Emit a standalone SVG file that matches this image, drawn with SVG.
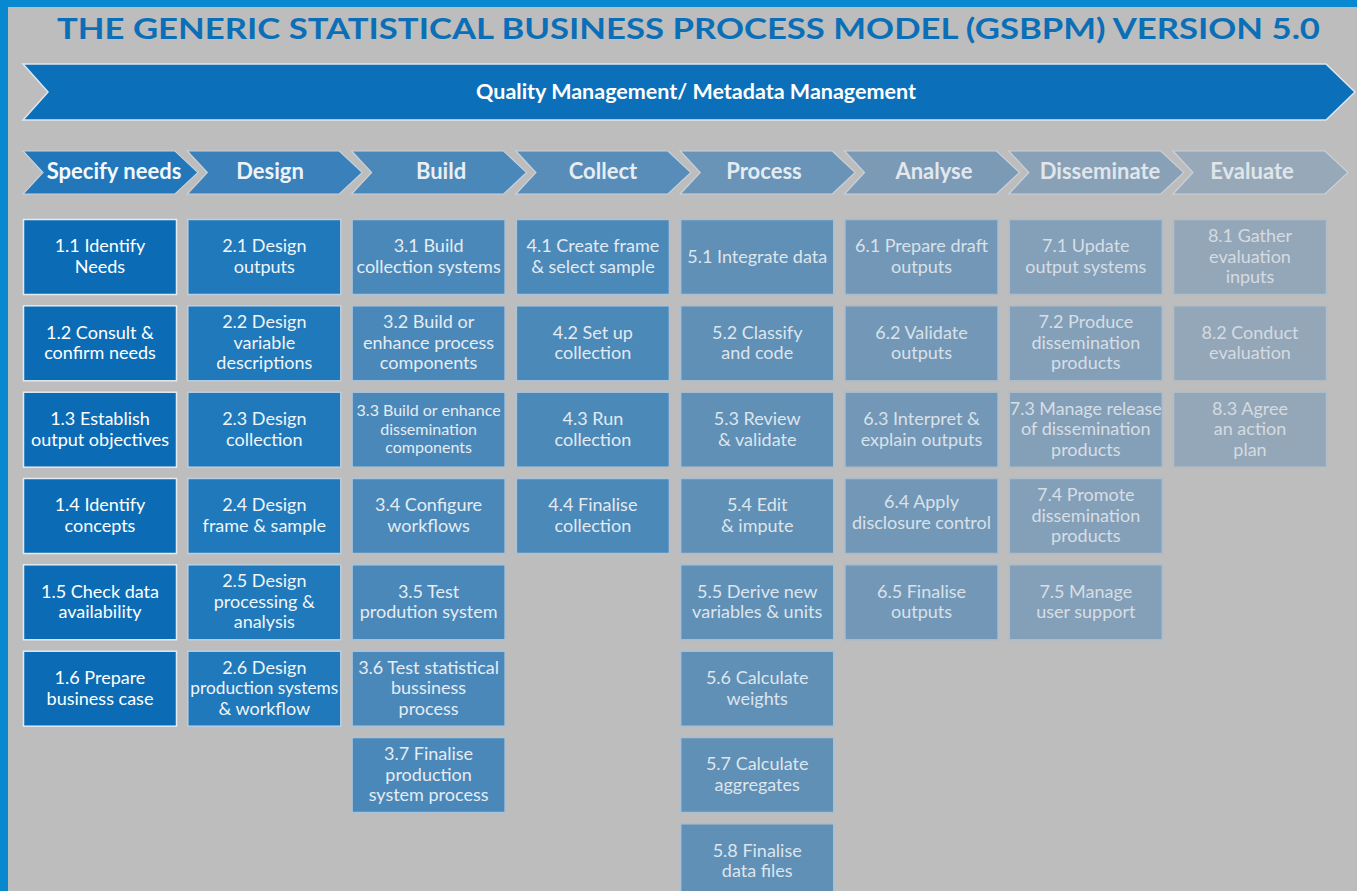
<svg xmlns="http://www.w3.org/2000/svg" width="1357" height="891" viewBox="0 0 1357 891">
<style>
text{font-family:Lato,"Open Sans","Liberation Sans",sans-serif;text-anchor:middle}
.title{font-size:28.5px;font-weight:bold;fill:#0b6fb8;text-anchor:start}
.banner{font-size:21.5px;font-weight:bold;fill:#ffffff}
.ph{font-size:22px;font-weight:bold}
.bx{font-size:18px}
.sm{font-size:16px}
.k1 rect{fill:#0b6cb5;stroke:#e2eaf2}
.k2 rect{fill:#1f79ba;stroke:#b9d0e4}
.k3 rect{fill:#4a88b9;stroke:#a9c3da}
.k4 rect{fill:#4b89b9;stroke:#a9c3da}
.k5 rect{fill:#6090b6;stroke:#a8bed2}
.k6 rect{fill:#7398b7;stroke:#a9bbcb}
.k7 rect{fill:#84a0b8;stroke:#adbcca}
.k8 rect{fill:#94a7b8;stroke:#b1bdc8}
rect{stroke-width:1.5}
.k1 text{fill:#ffffff}.k2 text{fill:#f0f5f9}.k3 text{fill:#e5ecf3}.k4 text{fill:#e3eaf1}
.k5 text{fill:#dde5ed}.k6 text{fill:#d9e1e9}.k7 text{fill:#d6dee6}.k8 text{fill:#d4dbe2}
.chev{stroke:#c9d1d9;stroke-width:1.2}
</style>
<rect x="0" y="0" width="1357" height="891" fill="#bcbdbc" stroke="none"/>
<rect x="0" y="0" width="1357" height="7" fill="#0889cf" stroke="none"/>
<rect x="0" y="0" width="8" height="891" fill="#0889cf" stroke="none"/>
<text class="title" x="57" y="39" textLength="1263" lengthAdjust="spacingAndGlyphs">THE GENERIC STATISTICAL BUSINESS PROCESS MODEL (GSBPM) VERSION 5.0</text>
<g id="banner">
<path d="M23,64 L1326,64 L1355,92 L1326,120 L23,120 L48,92 Z" fill="#0b70b9" stroke="#dfe6ee" stroke-width="1.5"/>
<text class="banner" x="696" y="99">Quality Management/ Metadata Management</text>
</g>
<g id="phases">
<g id="phase1"><path class="chev" d="M23,151 L175,151 L198,172.5 L175,194 L23,194 L43,172.5 Z" fill="#2277ba"/><text class="ph" x="114" y="179" fill="#f4f8fb">Specify needs</text></g>
<g id="phase2"><path class="chev" d="M187.3,151 L339.3,151 L362.3,172.5 L339.3,194 L187.3,194 L207.3,172.5 Z" fill="#3a81bb"/><text class="ph" x="270" y="179" fill="#eef3f8">Design</text></g>
<g id="phase3"><path class="chev" d="M351.6,151 L503.6,151 L526.6,172.5 L503.6,194 L351.6,194 L371.6,172.5 Z" fill="#4a88b9"/><text class="ph" x="441" y="179" fill="#e9eff5">Build</text></g>
<g id="phase4"><path class="chev" d="M515.9,151 L667.9,151 L690.9,172.5 L667.9,194 L515.9,194 L535.9,172.5 Z" fill="#578db8"/><text class="ph" x="603" y="179" fill="#e6edf3">Collect</text></g>
<g id="phase5"><path class="chev" d="M680.2,151 L832.2,151 L855.2,172.5 L832.2,194 L680.2,194 L700.2,172.5 Z" fill="#6994b7"/><text class="ph" x="764" y="179" fill="#e4ebf1">Process</text></g>
<g id="phase6"><path class="chev" d="M844.5,151 L996.5,151 L1019.5,172.5 L996.5,194 L844.5,194 L864.5,172.5 Z" fill="#7a9ab6"/><text class="ph" x="934" y="179" fill="#e2e8ee">Analyse</text></g>
<g id="phase7"><path class="chev" d="M1008.8,151 L1160.8,151 L1183.8,172.5 L1160.8,194 L1008.8,194 L1028.8,172.5 Z" fill="#88a1b6"/><text class="ph" x="1100" y="179" fill="#e0e6ec">Disseminate</text></g>
<g id="phase8"><path class="chev" d="M1173,151 L1325,151 L1348,172.5 L1325,194 L1173,194 L1193,172.5 Z" fill="#97a9b8"/><text class="ph" x="1252" y="179" fill="#e0e5ea">Evaluate</text></g>
</g>
<g id="col1" class="k1">
<g id="n1_1"><rect x="23.5" y="219.5" width="153" height="75"/><text class="bx" x="100" y="252.3">1.1 Identify</text><text class="bx" x="100" y="272.8">Needs</text></g>
<g id="n1_2"><rect x="23.5" y="305.8" width="153" height="75"/><text class="bx" x="100" y="338.6">1.2 Consult &amp;</text><text class="bx" x="100" y="359.1">confirm needs</text></g>
<g id="n1_3"><rect x="23.5" y="392.2" width="153" height="75"/><text class="bx" x="100" y="425">1.3 Establish</text><text class="bx" x="100" y="445.5">output objectives</text></g>
<g id="n1_4"><rect x="23.5" y="478.5" width="153" height="75"/><text class="bx" x="100" y="511.3">1.4 Identify</text><text class="bx" x="100" y="531.8">concepts</text></g>
<g id="n1_5"><rect x="23.5" y="564.8" width="153" height="75"/><text class="bx" x="100" y="597.6">1.5 Check data</text><text class="bx" x="100" y="618.1">availability</text></g>
<g id="n1_6"><rect x="23.5" y="651.2" width="153" height="75"/><text class="bx" x="100" y="684">1.6 Prepare</text><text class="bx" x="100" y="704.5">business case</text></g>
</g>
<g id="col2" class="k2">
<g id="n2_1"><rect x="187.8" y="219.5" width="153" height="75"/><text class="bx" x="264.3" y="252.3">2.1 Design</text><text class="bx" x="264.3" y="272.8">outputs</text></g>
<g id="n2_2"><rect x="187.8" y="305.8" width="153" height="75"/><text class="bx" x="264.3" y="328.3">2.2 Design</text><text class="bx" x="264.3" y="348.8">variable</text><text class="bx" x="264.3" y="369.3">descriptions</text></g>
<g id="n2_3"><rect x="187.8" y="392.2" width="153" height="75"/><text class="bx" x="264.3" y="425">2.3 Design</text><text class="bx" x="264.3" y="445.5">collection</text></g>
<g id="n2_4"><rect x="187.8" y="478.5" width="153" height="75"/><text class="bx" x="264.3" y="511.3">2.4 Design</text><text class="bx" x="264.3" y="531.8">frame &amp; sample</text></g>
<g id="n2_5"><rect x="187.8" y="564.8" width="153" height="75"/><text class="bx" x="264.3" y="587.3">2.5 Design</text><text class="bx" x="264.3" y="607.8">processing &amp;</text><text class="bx" x="264.3" y="628.3">analysis</text></g>
<g id="n2_6"><rect x="187.8" y="651.2" width="153" height="75"/><text class="bx" x="264.3" y="673.7">2.6 Design</text><text class="bx" x="264.3" y="694.2" textLength="148" lengthAdjust="spacingAndGlyphs">production systems</text><text class="bx" x="264.3" y="714.7">&amp; workflow</text></g>
</g>
<g id="col3" class="k3">
<g id="n3_1"><rect x="352.1" y="219.5" width="153" height="75"/><text class="bx" x="428.6" y="252.3">3.1 Build</text><text class="bx" x="428.6" y="272.8">collection systems</text></g>
<g id="n3_2"><rect x="352.1" y="305.8" width="153" height="75"/><text class="bx" x="428.6" y="328.3">3.2 Build or</text><text class="bx" x="428.6" y="348.8">enhance process</text><text class="bx" x="428.6" y="369.3">components</text></g>
<g id="n3_3"><rect x="352.1" y="392.2" width="153" height="75"/><text class="sm" x="428.6" y="415.7">3.3 Build or enhance</text><text class="sm" x="428.6" y="434.7">dissemination</text><text class="sm" x="428.6" y="453.2">components</text></g>
<g id="n3_4"><rect x="352.1" y="478.5" width="153" height="75"/><text class="bx" x="428.6" y="511.3">3.4 Configure</text><text class="bx" x="428.6" y="531.8">workflows</text></g>
<g id="n3_5"><rect x="352.1" y="564.8" width="153" height="75"/><text class="bx" x="428.6" y="597.6">3.5 Test</text><text class="bx" x="428.6" y="618.1">prodution system</text></g>
<g id="n3_6"><rect x="352.1" y="651.2" width="153" height="75"/><text class="bx" x="428.6" y="673.7">3.6 Test statistical</text><text class="bx" x="428.6" y="694.2">bussiness</text><text class="bx" x="428.6" y="714.7">process</text></g>
<g id="n3_7"><rect x="352.1" y="737.5" width="153" height="75"/><text class="bx" x="428.6" y="760">3.7 Finalise</text><text class="bx" x="428.6" y="780.5">production</text><text class="bx" x="428.6" y="801">system process</text></g>
</g>
<g id="col4" class="k4">
<g id="n4_1"><rect x="516.4" y="219.5" width="153" height="75"/><text class="bx" x="592.9" y="252.3">4.1 Create frame</text><text class="bx" x="592.9" y="272.8">&amp; select sample</text></g>
<g id="n4_2"><rect x="516.4" y="305.8" width="153" height="75"/><text class="bx" x="592.9" y="338.6">4.2 Set up</text><text class="bx" x="592.9" y="359.1">collection</text></g>
<g id="n4_3"><rect x="516.4" y="392.2" width="153" height="75"/><text class="bx" x="592.9" y="425">4.3 Run</text><text class="bx" x="592.9" y="445.5">collection</text></g>
<g id="n4_4"><rect x="516.4" y="478.5" width="153" height="75"/><text class="bx" x="592.9" y="511.3">4.4 Finalise</text><text class="bx" x="592.9" y="531.8">collection</text></g>
</g>
<g id="col5" class="k5">
<g id="n5_1"><rect x="680.7" y="219.5" width="153" height="75"/><text class="bx" x="757.2" y="262.5">5.1 Integrate data</text></g>
<g id="n5_2"><rect x="680.7" y="305.8" width="153" height="75"/><text class="bx" x="757.2" y="338.6">5.2 Classify</text><text class="bx" x="757.2" y="359.1">and code</text></g>
<g id="n5_3"><rect x="680.7" y="392.2" width="153" height="75"/><text class="bx" x="757.2" y="425">5.3 Review</text><text class="bx" x="757.2" y="445.5">&amp; validate</text></g>
<g id="n5_4"><rect x="680.7" y="478.5" width="153" height="75"/><text class="bx" x="757.2" y="511.3">5.4 Edit</text><text class="bx" x="757.2" y="531.8">&amp; impute</text></g>
<g id="n5_5"><rect x="680.7" y="564.8" width="153" height="75"/><text class="bx" x="757.2" y="597.6">5.5 Derive new</text><text class="bx" x="757.2" y="618.1">variables &amp; units</text></g>
<g id="n5_6"><rect x="680.7" y="651.2" width="153" height="75"/><text class="bx" x="757.2" y="684">5.6 Calculate</text><text class="bx" x="757.2" y="704.5">weights</text></g>
<g id="n5_7"><rect x="680.7" y="737.5" width="153" height="75"/><text class="bx" x="757.2" y="770.3">5.7 Calculate</text><text class="bx" x="757.2" y="790.8">aggregates</text></g>
<g id="n5_8"><rect x="680.7" y="823.8" width="153" height="75"/><text class="bx" x="757.2" y="856.6">5.8 Finalise</text><text class="bx" x="757.2" y="877.1">data files</text></g>
</g>
<g id="col6" class="k6">
<g id="n6_1"><rect x="845" y="219.5" width="153" height="75"/><text class="bx" x="921.5" y="252.3">6.1 Prepare draft</text><text class="bx" x="921.5" y="272.8">outputs</text></g>
<g id="n6_2"><rect x="845" y="305.8" width="153" height="75"/><text class="bx" x="921.5" y="338.6">6.2 Validate</text><text class="bx" x="921.5" y="359.1">outputs</text></g>
<g id="n6_3"><rect x="845" y="392.2" width="153" height="75"/><text class="bx" x="921.5" y="425">6.3 Interpret &amp;</text><text class="bx" x="921.5" y="445.5">explain outputs</text></g>
<g id="n6_4"><rect x="845" y="478.5" width="153" height="75"/><text class="bx" x="921.5" y="508.3">6.4 Apply</text><text class="bx" x="921.5" y="528.8">disclosure control</text></g>
<g id="n6_5"><rect x="845" y="564.8" width="153" height="75"/><text class="bx" x="921.5" y="597.6">6.5 Finalise</text><text class="bx" x="921.5" y="618.1">outputs</text></g>
</g>
<g id="col7" class="k7">
<g id="n7_1"><rect x="1009.3" y="219.5" width="153" height="75"/><text class="bx" x="1085.8" y="252.3">7.1 Update</text><text class="bx" x="1085.8" y="272.8">output systems</text></g>
<g id="n7_2"><rect x="1009.3" y="305.8" width="153" height="75"/><text class="bx" x="1085.8" y="328.3">7.2 Produce</text><text class="bx" x="1085.8" y="348.8">dissemination</text><text class="bx" x="1085.8" y="369.3">products</text></g>
<g id="n7_3"><rect x="1009.3" y="392.2" width="153" height="75"/><text class="bx" x="1085.8" y="414.7" textLength="152" lengthAdjust="spacingAndGlyphs">7.3 Manage release</text><text class="bx" x="1085.8" y="435.2">of dissemination</text><text class="bx" x="1085.8" y="455.7">products</text></g>
<g id="n7_4"><rect x="1009.3" y="478.5" width="153" height="75"/><text class="bx" x="1085.8" y="501">7.4 Promote</text><text class="bx" x="1085.8" y="521.5">dissemination</text><text class="bx" x="1085.8" y="542">products</text></g>
<g id="n7_5"><rect x="1009.3" y="564.8" width="153" height="75"/><text class="bx" x="1085.8" y="597.6">7.5 Manage</text><text class="bx" x="1085.8" y="618.1">user support</text></g>
</g>
<g id="col8" class="k8">
<g id="n8_1"><rect x="1173.5" y="219.5" width="153" height="75"/><text class="bx" x="1250" y="242">8.1 Gather</text><text class="bx" x="1250" y="262.5">evaluation</text><text class="bx" x="1250" y="283">inputs</text></g>
<g id="n8_2"><rect x="1173.5" y="305.8" width="153" height="75"/><text class="bx" x="1250" y="338.6">8.2 Conduct</text><text class="bx" x="1250" y="359.1">evaluation</text></g>
<g id="n8_3"><rect x="1173.5" y="392.2" width="153" height="75"/><text class="bx" x="1250" y="414.7">8.3 Agree</text><text class="bx" x="1250" y="435.2">an action</text><text class="bx" x="1250" y="455.7">plan</text></g>
</g>
<g id="connectors"></g>
</svg>
